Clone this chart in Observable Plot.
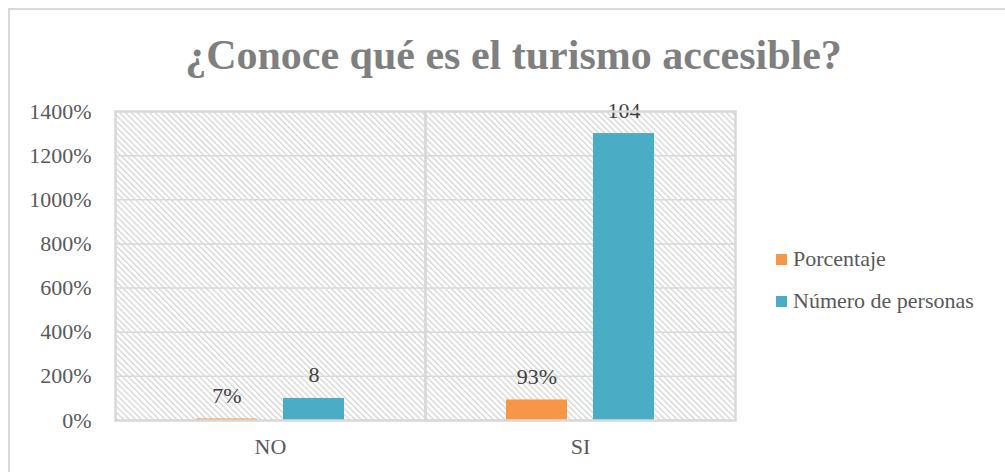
<!DOCTYPE html>
<html>
<head>
<meta charset="utf-8">
<script src="https://cdn.jsdelivr.net/npm/d3@7"></script>
<script src="https://cdn.jsdelivr.net/npm/@observablehq/plot@0.6"></script>
<style>
  html, body { margin: 0; padding: 0; background: #fff; overflow: hidden; }
  #wrap { position: relative; width: 1005px; height: 472px; overflow: hidden; font-family: 'Liberation Serif', serif; }
  #box { position: absolute; left: 8px; top: 8px; width: 1100px; height: 600px; border: 2px solid #d9d9d9; box-sizing: border-box; }
  #title { position: absolute; left: 0; width: 1027px; top: 31px; text-align: center; font-size: 42px; font-weight: bold; color: #7f7f7f; white-space: nowrap; font-family: 'Liberation Serif', serif; }
  #chart { position: absolute; left: 0; top: 0; }
  #legend { position: absolute; left: 776px; top: 238px; font-size: 22px; color: #595959; font-family: 'Liberation Serif', serif; }
  .item { display: flex; align-items: center; height: 42px; }
  .sw { width: 11px; height: 11px; margin-right: 6px; }
</style>
</head>
<body>
<div id="wrap">
  <div id="box"></div>
  <div id="title">¿Conoce qué es el turismo accesible?</div>
  <div id="chart"></div>
  <div id="legend"></div>
</div>
<script>
const FONT = "'Liberation Serif', serif";
const categories = ["NO", "SI"];
const series = ["Porcentaje", "Número de personas"];
const colors = ["#F79646", "#4BACC6"];
// bar heights in axis units (1 = 100%)
const porcentaje = [0.07, 0.93];
const porcentajeLabels = ["7%", "93%"];
const personasAltura = [1.0, 13.0];
const personasLabels = ["8", "104"];
const yTicks = [0, 2, 4, 6, 8, 10, 12, 14];

const rows = [];
categories.forEach((c, i) => {
  rows.push({cat: c, serie: series[0], value: porcentaje[i], label: porcentajeLabels[i]});
  rows.push({cat: c, serie: series[1], value: personasAltura[i], label: personasLabels[i]});
});

const plot = Plot.plot({
  width: 1005,
  height: 472,
  marginLeft: 115,
  marginRight: 270,
  marginTop: 111,
  marginBottom: 52,
  style: {fontFamily: FONT, fontSize: "22px", color: "#595959", background: "transparent"},
  fx: {domain: categories, padding: 0},
  x: {domain: series, paddingInner: 0.3, paddingOuter: 0.93, axis: null},
  y: {domain: [0, 14]},
  color: {domain: series, range: colors},
  marks: [
    Plot.frame({fill: "url(#hatch)", stroke: "none"}),
    Plot.gridY(yTicks, {stroke: "#d9d9d9", strokeOpacity: 1, strokeWidth: 1.5}),
    Plot.barY(rows, {fx: "cat", x: "serie", y: "value", fill: "serie"}),
    Plot.text(rows, {fx: "cat", x: "serie", y: "value", text: "label", dy: -23, fontSize: 22, fill: "#404040"}),
    Plot.frame({stroke: "#d9d9d9", strokeWidth: 2.5}),
    Plot.axisY({ticks: yTicks, tickSize: 0, tickPadding: 24, tickFormat: d => Math.round(d * 100) + "%", label: null, fontSize: 22, fill: "#595959"}),
    Plot.axisFx({anchor: "bottom", tickSize: 0, tickPadding: 18, label: null, fontSize: 22, fill: "#595959"})
  ]
});

const svg = d3.select(plot);
svg.attr("font-family", FONT).style("font-family", FONT);
svg.selectAll("text").style("font-family", FONT);
const defs = svg.insert("defs", ":first-child");
const pat = defs.append("pattern")
  .attr("id", "hatch")
  .attr("patternUnits", "userSpaceOnUse")
  .attr("width", 4.2)
  .attr("height", 4.2)
  .attr("patternTransform", "rotate(-45)");
pat.append("rect").attr("width", 4.2).attr("height", 4.2).attr("fill", "#ffffff");
pat.append("line").attr("x1", 0.7).attr("y1", 0).attr("x2", 0.7).attr("y2", 4.2)
  .attr("stroke", "#d4d4d4").attr("stroke-width", 1.3);

document.getElementById("chart").appendChild(plot);

const legend = document.getElementById("legend");
series.forEach((s, i) => {
  const it = document.createElement("div");
  it.className = "item";
  const sw = document.createElement("div");
  sw.className = "sw";
  sw.style.background = colors[i];
  const t = document.createElement("span");
  t.textContent = s;
  it.appendChild(sw);
  it.appendChild(t);
  legend.appendChild(it);
});
</script>
</body>
</html>
